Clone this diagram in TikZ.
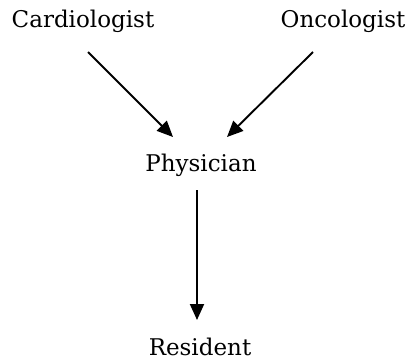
\documentclass[tikz,border=0pt]{standalone}
\usepackage{fontspec}
\setmainfont{DejaVu Serif}
\usetikzlibrary{arrows.meta}
\begin{document}
\begin{tikzpicture}[x=1pt,y=-1pt,
  label text/.style={font=\fontsize{23}{27}\selectfont, inner sep=0pt, anchor=base},
  flow/.style={line width=1.9pt, -{Triangle[length=16pt,width=14pt]}}]
  \useasboundingbox (0,0) rectangle (411,360);
  % role labels
  \node[label text] (card) at (83,27) {Cardiologist};
  \node[label text] (onco) at (343,27) {Oncologist};
  \node[label text] (phys) at (201,171) {Physician};
  \node[label text] (resi) at (200,355) {Resident};
  % reporting lines
  \draw[flow] ([shift={(5,25)}]card.base) -- ([shift={(-28,-34)}]phys.base);
  \draw[flow] ([shift={(-30,25)}]onco.base) -- ([shift={(26,-34)}]phys.base);
  \draw[flow] ([shift={(-4,19)}]phys.base) -- ([shift={(-3,-35)}]resi.base);
\end{tikzpicture}
\end{document}
